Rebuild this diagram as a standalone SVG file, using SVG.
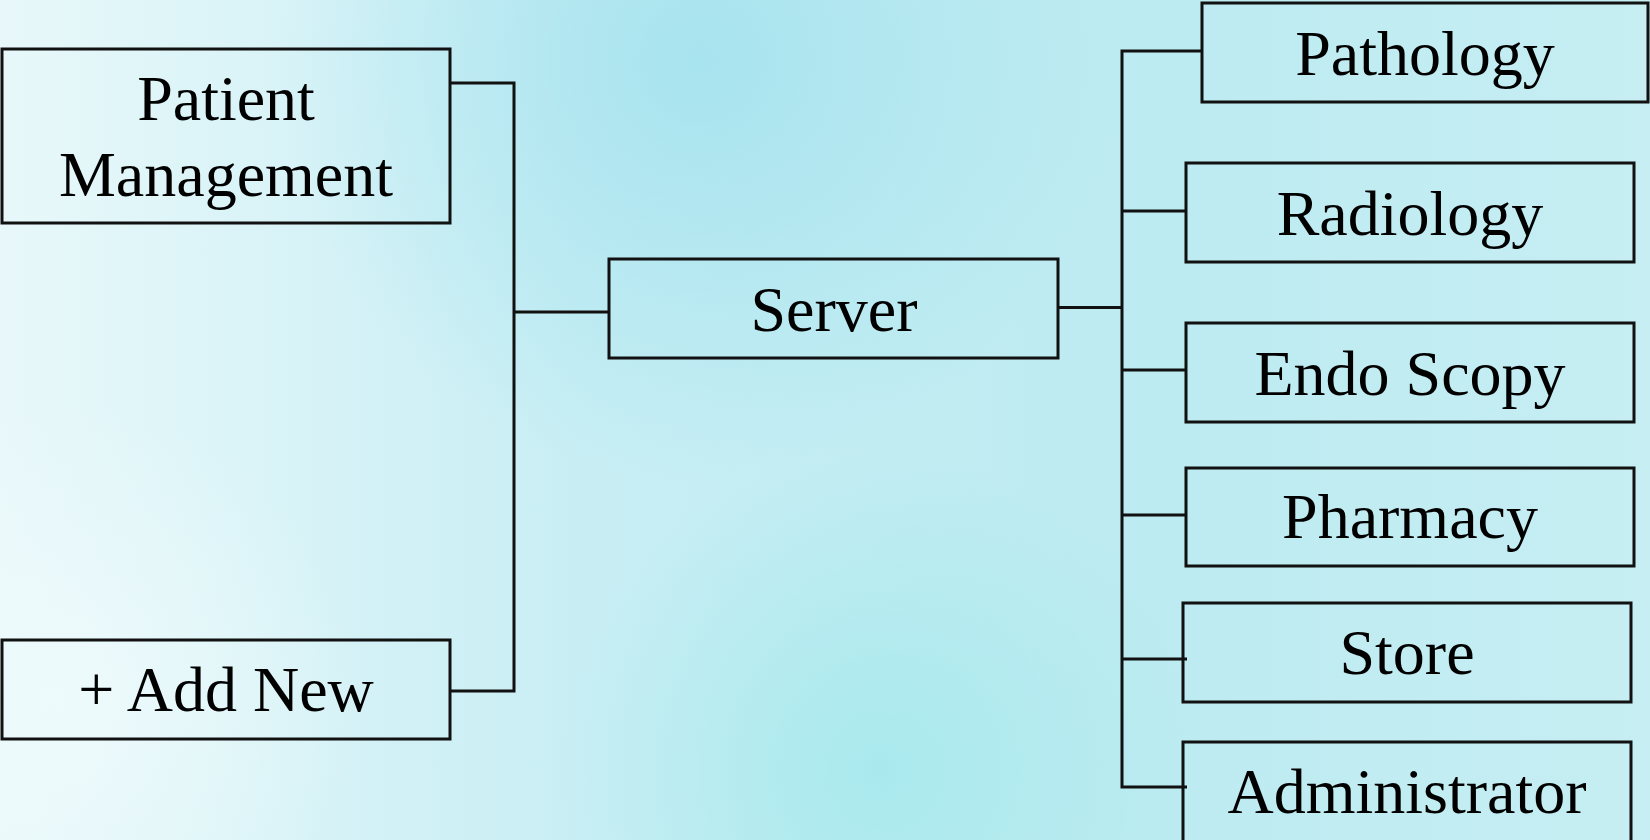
<svg xmlns="http://www.w3.org/2000/svg" width="1650" height="840" viewBox="0 0 1650 840">
  <defs>
    <linearGradient id="bg" x1="0" y1="0" x2="1" y2="0">
      <stop offset="0" stop-color="#e8f8fa"/>
      <stop offset="0.35" stop-color="#c8eef4"/>
      <stop offset="0.7" stop-color="#bcebf1"/>
      <stop offset="1" stop-color="#c6eef3"/>
    </linearGradient>
    <radialGradient id="blobTop" cx="700" cy="60" r="420" gradientUnits="userSpaceOnUse">
      <stop offset="0" stop-color="#a4e2ee" stop-opacity="0.9"/>
      <stop offset="1" stop-color="#a4e2ee" stop-opacity="0"/>
    </radialGradient>
    <radialGradient id="blobBot" cx="880" cy="770" r="320" gradientUnits="userSpaceOnUse">
      <stop offset="0" stop-color="#a6e9ec" stop-opacity="0.9"/>
      <stop offset="1" stop-color="#a6e9ec" stop-opacity="0"/>
    </radialGradient>
    <radialGradient id="blobLeft" cx="60" cy="700" r="300" gradientUnits="userSpaceOnUse">
      <stop offset="0" stop-color="#f0fbfc" stop-opacity="0.8"/>
      <stop offset="1" stop-color="#f0fbfc" stop-opacity="0"/>
    </radialGradient>
    <style>
      .box { fill: none; stroke: #111; stroke-width: 3; }
      .lbl { font-family: "Liberation Serif", "Times New Roman", serif; font-size: 64px; fill: #000; text-anchor: middle; }
      .conn { fill: none; stroke: #111; stroke-width: 3; }
    </style>
  </defs>
  <rect x="0" y="0" width="1650" height="840" fill="url(#bg)"/>
  <rect x="0" y="0" width="1650" height="840" fill="url(#blobTop)"/>
  <rect x="0" y="0" width="1650" height="840" fill="url(#blobBot)"/>
  <rect x="0" y="0" width="1650" height="840" fill="url(#blobLeft)"/>

  <g id="connectors">
    <polyline class="conn" points="450,83 514,83 514,691 450,691"/>
    <line class="conn" x1="514" y1="312" x2="609" y2="312"/>
    <line class="conn" x1="1058" y1="307.5" x2="1122" y2="307.5"/>
    <polyline class="conn" points="1202,51 1122,51 1122,787 1187,787"/>
    <line class="conn" x1="1122" y1="211" x2="1186" y2="211"/>
    <line class="conn" x1="1122" y1="370" x2="1186" y2="370"/>
    <line class="conn" x1="1122" y1="515" x2="1186" y2="515"/>
    <line class="conn" x1="1122" y1="659" x2="1187" y2="659"/>
  </g>

  <g id="patient-management">
    <rect class="box" x="2" y="49" width="448" height="174"/>
    <text class="lbl" x="226" y="120">Patient</text>
    <text class="lbl" x="226" y="196">Management</text>
  </g>
  <g id="add-new">
    <rect class="box" x="2" y="640" width="448" height="99"/>
    <text class="lbl" x="226" y="711">+ Add New</text>
  </g>
  <g id="server">
    <rect class="box" x="609" y="259" width="449" height="99"/>
    <text class="lbl" x="834" y="331">Server</text>
  </g>
  <g id="pathology">
    <rect class="box" x="1202" y="3" width="446" height="99"/>
    <text class="lbl" x="1425" y="75">Pathology</text>
  </g>
  <g id="radiology">
    <rect class="box" x="1186" y="163" width="448" height="99"/>
    <text class="lbl" x="1410" y="235">Radiology</text>
  </g>
  <g id="endo-scopy">
    <rect class="box" x="1186" y="323" width="448" height="99"/>
    <text class="lbl" x="1410" y="395">Endo Scopy</text>
  </g>
  <g id="pharmacy">
    <rect class="box" x="1186" y="468" width="448" height="98"/>
    <text class="lbl" x="1410" y="538">Pharmacy</text>
  </g>
  <g id="store">
    <rect class="box" x="1183" y="603" width="448" height="99"/>
    <text class="lbl" x="1407" y="674">Store</text>
  </g>
  <g id="administrator">
    <rect class="box" x="1183" y="742" width="448" height="110"/>
    <text class="lbl" x="1407" y="813">Administrator</text>
  </g>
</svg>
